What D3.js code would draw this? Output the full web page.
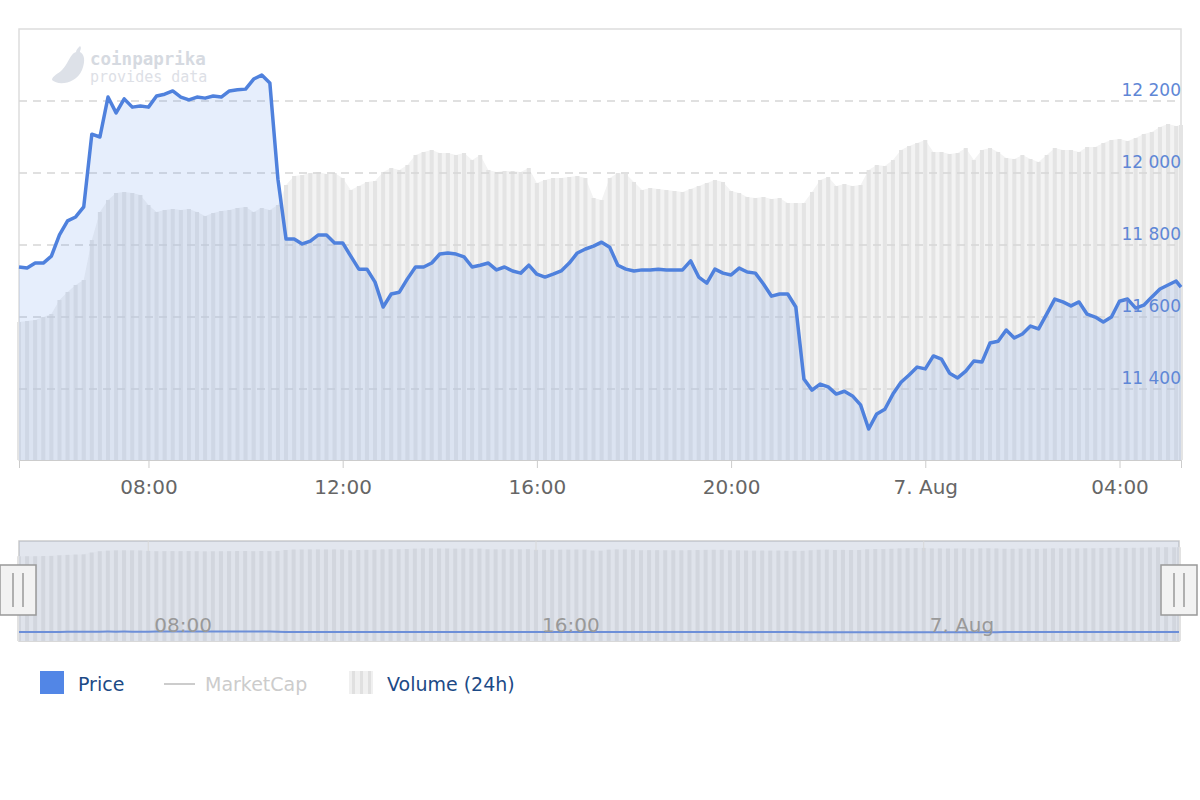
<!DOCTYPE html>
<html>
<head>
<meta charset="utf-8">
<script src="https://cdn.jsdelivr.net/npm/d3@7"></script>
<style>
  body { margin: 0; background: #fff; font-family: "DejaVu Sans", sans-serif; }
</style>
</head>
<body>
<div id="chart"></div>
<script>
// 10-minute samples starting 6 Aug 2019 05:20
const startTime = new Date(2019, 7, 6, 5, 20);
const endTime = new Date(2019, 7, 7, 5, 16);

const prices = [11739,11736,11750,11750,11769,11828,11867,11878,11906,12108,12100,12211,12167,12206,12183,12186,
  12183,12214,12219,12228,12211,12203,12211,12208,12214,12211,12228,12231,12233,12261,12272,12250,
  11983,11817,11817,11803,11811,11828,11828,11806,11806,11769,11733,11733,11697,11628,11664,11669,
  11706,11739,11739,11750,11775,11778,11775,11767,11739,11744,11750,11731,11739,11728,11722,11744,
  11719,11711,11719,11728,11750,11778,11789,11797,11808,11794,11744,11733,11728,11731,11731,11733,
  11731,11731,11731,11756,11711,11694,11733,11722,11717,11736,11725,11722,11692,11658,11664,11664,
  11628,11428,11397,11414,11406,11386,11394,11381,11356,11289,11331,11344,11386,11419,11439,11461,
  11456,11492,11483,11444,11431,11450,11478,11475,11528,11533,11564,11542,11553,11575,11567,11608,
  11650,11642,11631,11642,11608,11600,11586,11600,11644,11650,11625,11633,11656,11678,11689,11700,11683];

// volume (24h), relative units
const volumes = [138,139,140,143,146,160,168,175,180,220,248,260,267,268,267,265,
  255,248,250,251,250,251,248,244,247,249,250,252,253,248,252,250,
  255,275,284,285,287,288,286,287,282,270,274,278,279,288,292,290,
  295,305,308,310,307,307,305,307,300,305,290,288,289,289,288,292,
  277,280,282,282,283,284,282,262,260,282,287,286,278,270,272,271,
  270,269,268,271,274,277,280,278,269,267,263,262,263,261,262,257,
  257,257,268,280,283,274,276,274,275,290,295,294,300,310,314,317,
  320,308,308,306,307,312,300,310,312,308,302,301,305,301,298,305,
  312,310,310,308,313,313,317,320,321,319,322,326,328,333,336,334,335];

const priceTicks = [11400, 11600, 11800, 12000, 12200];
const legendItems = ["Price", "MarketCap", "Volume (24h)"];

const times = prices.map((p, i) => i === prices.length - 1 ? endTime : new Date(startTime.getTime() + i * 600000));
const data = prices.map((p, i) => ({t: times[i], price: p, vol: volumes[i]}));

const W = 1200, H = 800;
const plot = {left: 19, right: 1181, top: 29, bottom: 460};
const nav = {left: 19, right: 1179, top: 541, bottom: 641};

const svg = d3.select("#chart").append("svg").attr("width", W).attr("height", H);

const x = d3.scaleTime().domain([startTime, endTime]).range([plot.left, plot.right]);
const y = d3.scaleLinear().domain([11203, 12400]).range([plot.bottom, plot.top]);
const yVol = d3.scaleLinear().domain([0, 431]).range([plot.bottom, plot.top]);

// frame
svg.append("rect")
  .attr("x", plot.left).attr("y", plot.top)
  .attr("width", plot.right - plot.left).attr("height", plot.bottom - plot.top)
  .attr("fill", "none").attr("stroke", "#ddd").attr("stroke-width", 1.5);

// logo
const logo = svg.append("g").attr("transform", "translate(50,50)");
logo.append("path")
  .attr("d", "M2,30 C8,36 26,34 32,20 C36,10 34,4 30,2 C30,0 32,-2 30,-4 C28,-2 26,0 26,2 C20,4 18,14 12,20 C8,24 2,26 2,30 Z")
  .attr("fill", "#dde1e8");
logo.append("text").attr("x", 40).attr("y", 15)
  .attr("font-family", "DejaVu Sans Mono").attr("font-weight", "bold").attr("font-size", 17.5)
  .attr("fill", "#d6dae1").text("coinpaprika");
logo.append("text").attr("x", 40).attr("y", 32)
  .attr("font-family", "DejaVu Sans Mono").attr("font-size", 15)
  .attr("fill", "#dde0e6").text("provides data");

// volume area + bars
const step = x(times[1]) - x(times[0]);
svg.append("path").datum(data)
  .attr("d", d3.area().x(d => x(d.t)).y0(plot.bottom).y1(d => yVol(d.vol)))
  .attr("fill", "#f3f3f3");
svg.append("g").selectAll("rect").data(data).join("rect")
  .attr("x", d => x(d.t) - step * 0.25).attr("width", step * 0.5)
  .attr("y", d => yVol(d.vol)).attr("height", d => plot.bottom - yVol(d.vol))
  .attr("fill", "#e4e4e4");

// grid
svg.append("g").selectAll("line").data(priceTicks).join("line")
  .attr("x1", plot.left).attr("x2", plot.right)
  .attr("y1", d => y(d)).attr("y2", d => y(d))
  .attr("stroke", "#d6d6d6").attr("stroke-width", 1.5).attr("stroke-dasharray", "8,6");

// price area + line
svg.append("path").datum(data)
  .attr("d", d3.area().x(d => x(d.t)).y0(plot.bottom).y1(d => y(d.price)))
  .attr("fill", "rgba(90,140,235,0.15)");
svg.append("path").datum(data)
  .attr("d", d3.line().x(d => x(d.t)).y(d => y(d.price)))
  .attr("fill", "none").attr("stroke", "#4f81dd").attr("stroke-width", 3.5)
  .attr("stroke-linejoin", "round");

// right price labels
svg.append("g").selectAll("text").data(priceTicks).join("text")
  .attr("x", plot.right).attr("y", d => y(d) - 5)
  .attr("text-anchor", "end").attr("font-size", 17).attr("fill", "#5f87d6")
  .text(d => d3.format(",")(d).replace(",", " "));

// x axis
const fmt = d => (d.getHours() === 0 && d.getMinutes() === 0) ? d3.timeFormat("%-d. %b")(d) : d3.timeFormat("%H:%M")(d);
const xAxis = svg.append("g").attr("transform", `translate(0,${plot.bottom})`)
  .call(d3.axisBottom(x).ticks(d3.timeHour.every(4)).tickFormat(fmt).tickSize(8).tickPadding(12));
xAxis.select(".domain").attr("stroke", "#ccc");
xAxis.selectAll(".tick line").attr("stroke", "#ccc");
xAxis.selectAll(".tick text").attr("font-size", 20).attr("fill", "#666").attr("font-family", "DejaVu Sans");

// navigator
const xn = d3.scaleTime().domain([startTime, endTime]).range([nav.left, nav.right]);
const yn = d3.scaleLinear().domain([-1710, 340]).range([nav.bottom, nav.top + 6]);
const ynp = d3.scaleLinear().domain([0, 130000]).range([nav.bottom, nav.top]);
svg.append("rect").attr("x", nav.left).attr("y", nav.top)
  .attr("width", nav.right - nav.left).attr("height", nav.bottom - nav.top)
  .attr("fill", "#f4f4f4").attr("stroke", "#ccc").attr("stroke-width", 1.5);
svg.append("path").datum(data)
  .attr("d", d3.area().x(d => xn(d.t)).y0(nav.bottom).y1(d => yn(d.vol)))
  .attr("fill", "#f1f1f1");
svg.append("g").selectAll("rect").data(data).join("rect")
  .attr("x", d => xn(d.t) - step * 0.25).attr("width", step * 0.5)
  .attr("y", d => yn(d.vol)).attr("height", d => nav.bottom - yn(d.vol))
  .attr("fill", "#e2e2e2");
svg.append("rect").attr("x", nav.left).attr("y", nav.top)
  .attr("width", nav.right - nav.left).attr("height", nav.bottom - nav.top)
  .attr("fill", "rgba(102,133,194,0.12)");
svg.append("path").datum(data)
  .attr("d", d3.line().x(d => xn(d.t)).y(d => ynp(d.price)))
  .attr("fill", "none").attr("stroke", "#6d8fd8").attr("stroke-width", 2);
const navTicks = xn.ticks(d3.timeHour.every(8));
svg.append("g").selectAll("line").data(navTicks).join("line")
  .attr("x1", d => xn(d)).attr("x2", d => xn(d)).attr("y1", nav.top).attr("y2", nav.top + 10)
  .attr("stroke", "#d8d8d8");
svg.append("g").selectAll("text").data(navTicks).join("text")
  .attr("x", d => xn(d) + 6).attr("y", 632)
  .attr("font-size", 20).attr("fill", "#999").text(fmt);
[nav.left - 1, nav.right].forEach(cx => {
  const g = svg.append("g").attr("transform", `translate(${cx},590)`);
  g.append("rect").attr("x", -18).attr("y", -25).attr("width", 36).attr("height", 50)
    .attr("fill", "#f2f2f2").attr("stroke", "#999").attr("stroke-width", 1.5);
  [-5, 5].forEach(dx => g.append("line").attr("x1", dx).attr("x2", dx).attr("y1", -17).attr("y2", 17)
    .attr("stroke", "#999").attr("stroke-width", 1.5));
});

// legend
const leg = svg.append("g").attr("font-size", 19);
leg.append("rect").attr("x", 40).attr("y", 671).attr("width", 24).attr("height", 23).attr("fill", "#5286e6");
leg.append("text").attr("x", 78).attr("y", 691).attr("fill", "#1c4a86").text(legendItems[0]);
leg.append("line").attr("x1", 164).attr("x2", 195).attr("y1", 684).attr("y2", 684).attr("stroke", "#ccc").attr("stroke-width", 2);
leg.append("text").attr("x", 205).attr("y", 691).attr("fill", "#ccc").text(legendItems[1]);
leg.append("rect").attr("x", 349).attr("y", 671).attr("width", 24).attr("height", 23).attr("fill", "#f0f0f0");
[352, 360, 368].forEach(lx => leg.append("rect").attr("x", lx).attr("y", 671).attr("width", 3).attr("height", 23).attr("fill", "#e0e0e0"));
leg.append("text").attr("x", 387).attr("y", 691).attr("fill", "#1c4a86").text(legendItems[2]);
</script>
</body>
</html>
